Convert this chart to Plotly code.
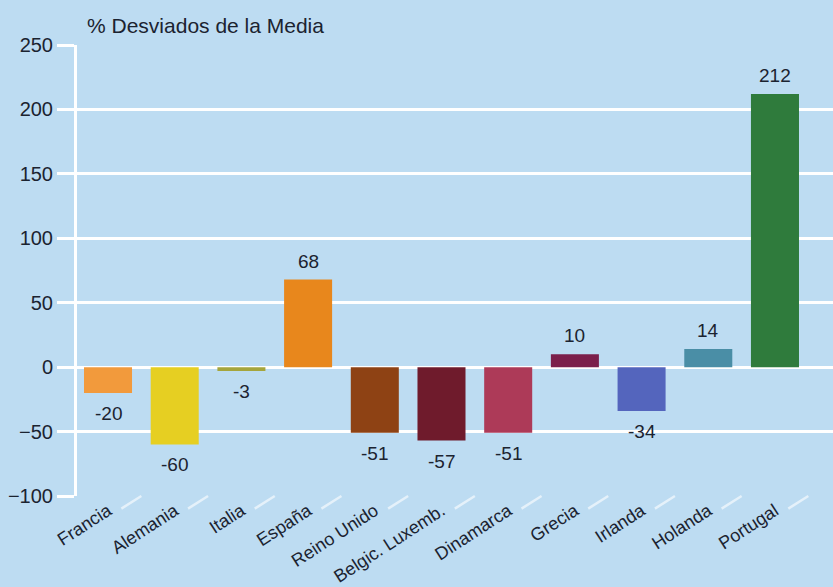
import plotly.graph_objects as go

# Deviation from the mean (%) per country
paises = ["Francia", "Alemania", "Italia", "España", "Reino Unido", "Belgic. Luxemb.",
          "Dinamarca", "Grecia", "Irlanda", "Holanda", "Portugal"]
desviacion = [-20, -60, -3, 68, -51, -57, -51, 10, -34, 14, 212]
colores = ["#f29a3c", "#e6cf22", "#a5a53c", "#e8871c", "#8e4214", "#6f1b2c",
           "#ad3a58", "#7b1f4b", "#5465bd", "#4a8ea6", "#2f7b3c"]
y_ticks = [-100, -50, 0, 50, 100, 150, 200, 250]

BG = "#bddcf2"
TXT = "#1b2330"
FONT = "Liberation Sans, Arial, sans-serif"

x_pos = list(range(len(paises)))

fig = go.Figure()
fig.add_trace(go.Bar(
    x=x_pos,
    y=desviacion,
    marker=dict(color=colores, line=dict(width=0)),
    width=0.72,
    hoverinfo="skip",
))

# value labels: above positive bars, below negative ones
annotations = []
for xi, v in zip(x_pos, desviacion):
    annotations.append(dict(
        x=xi, y=v, xref="x", yref="y", text=str(v), showarrow=False,
        yanchor="bottom" if v >= 0 else "top",
        yshift=6 if v >= 0 else -8,
        font=dict(family=FONT, size=19, color=TXT),
    ))

annotations.append(dict(
    text="% Desviados de la Media", xref="paper", yref="paper",
    x=0.01, y=1.0, xanchor="left", yanchor="bottom", yshift=6,
    showarrow=False,
    font=dict(family=FONT, size=21, color=TXT),
))

# perspective floor strokes under the -100 line, at category boundaries
shapes = []
for i in range(len(paises) + 1):
    xb = i - 0.5
    shapes.append(dict(type="line", xref="x", yref="paper",
                       x0=xb, y0=0, x1=xb - 0.3, y1=-0.028,
                       line=dict(color="rgba(255,255,255,0.6)", width=2.5), layer="below"))

fig.update_layout(
    width=833, height=587,
    margin=dict(l=77, r=0, t=45, b=89),
    paper_bgcolor=BG, plot_bgcolor=BG,
    showlegend=False,
    shapes=shapes,
    annotations=annotations,
    xaxis=dict(
        range=[-0.465, 10.87],
        tickmode="array",
        tickvals=x_pos,
        ticktext=paises,
        tickangle=-33,
        tickfont=dict(family=FONT, size=18, color=TXT),
        showgrid=False, zeroline=False, showline=False, ticks="",
    ),
    yaxis=dict(
        range=[-100, 250],
        tickvals=y_ticks,
        tickfont=dict(family=FONT, size=20, color=TXT),
        showgrid=True, gridcolor="white", gridwidth=3,
        zeroline=True, zerolinecolor="white", zerolinewidth=3,
        showline=True, linecolor="white", linewidth=3,
        ticks="outside", ticklen=17, tickcolor="white", tickwidth=3,
    ),
)

fig.write_html("out.html")
